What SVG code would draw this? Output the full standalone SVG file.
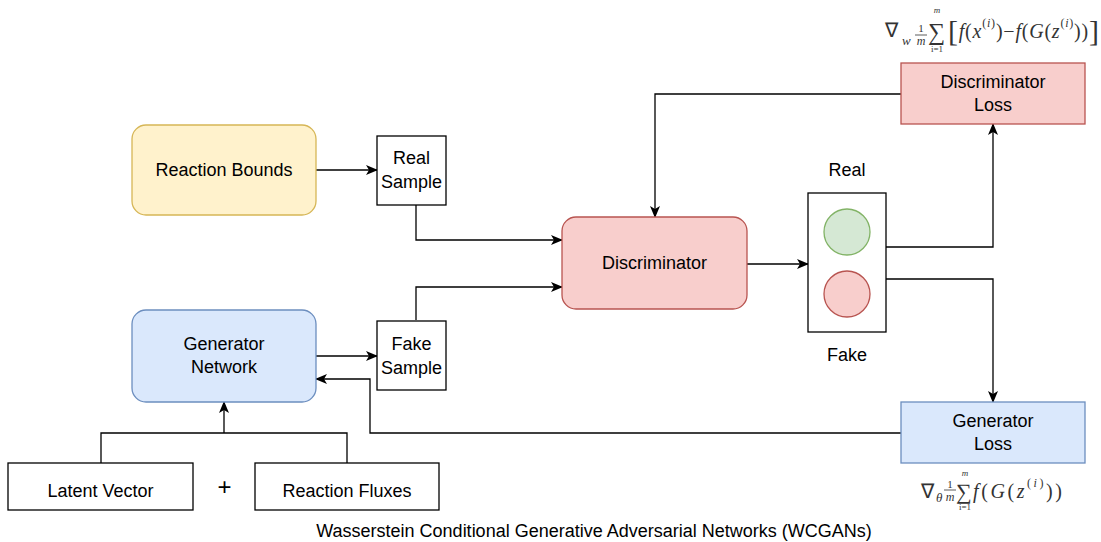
<svg xmlns="http://www.w3.org/2000/svg" width="1101" height="542" viewBox="0 0 1101 542">
<style>
.lbl{font-family:"Liberation Sans",Arial,sans-serif;font-size:18px;fill:#000;text-anchor:middle}
.box{fill:#fff;stroke:#000;stroke-width:1.3}
.yel{fill:#fff2cc;stroke:#d6b656;stroke-width:1.3}
.blu{fill:#dae8fc;stroke:#6c8ebf;stroke-width:1.3}
.red{fill:#f8cecc;stroke:#b85450;stroke-width:1.3}
.grn{fill:#d5e8d4;stroke:#82b366;stroke-width:1.3}
.con{fill:none;stroke:#000;stroke-width:1.3}
.arr{fill:none;stroke:#000;stroke-width:1.3;marker-end:url(#ah)}
.m{font-family:"Liberation Serif","Times New Roman",serif;fill:#333}
.it{font-style:italic}
</style>
<defs>
<marker id="ah" viewBox="0 0 12 10" refX="11" refY="5" markerWidth="12" markerHeight="10" markerUnits="userSpaceOnUse" orient="auto">
<path d="M0,0 L12,5 L0,10 L3,5 z" fill="#000"/>
</marker>
</defs>

<g id="connectors">
<path class="arr" d="M316,170 H377"/>
<path class="arr" d="M416,205 V240 H562"/>
<path class="arr" d="M416,320 V287 H562"/>
<path class="arr" d="M747,264 H808"/>
<path class="arr" d="M886,247 H993 V124"/>
<path class="arr" d="M886,279 H993 V402"/>
<path class="arr" d="M901,94 H655 V217"/>
<path class="arr" d="M901,433 H370 V379 H316"/>
<path class="arr" d="M316,356 H377"/>
<path class="con" d="M101,463 V433 H347 V463"/>
<path class="arr" d="M224,433 V402"/>
</g>

<g id="reaction-bounds">
<rect class="yel" x="132" y="125" width="184" height="90" rx="14"/>
<text class="lbl" x="224" y="176">Reaction Bounds</text>
</g>
<g id="real-sample">
<rect class="box" x="377" y="136" width="69" height="69"/>
<text class="lbl" x="411.5" y="164">Real</text>
<text class="lbl" x="411.5" y="188">Sample</text>
</g>
<g id="generator-network">
<rect class="blu" x="132" y="310" width="184" height="92" rx="14"/>
<text class="lbl" x="224" y="350">Generator</text>
<text class="lbl" x="224" y="373">Network</text>
</g>
<g id="fake-sample">
<rect class="box" x="377" y="321" width="69" height="69"/>
<text class="lbl" x="411.5" y="350">Fake</text>
<text class="lbl" x="411.5" y="374">Sample</text>
</g>
<g id="discriminator">
<rect class="red" x="562" y="217" width="185" height="92" rx="14"/>
<text class="lbl" x="654.5" y="269">Discriminator</text>
</g>
<g id="real-fake">
<rect class="box" x="808" y="193" width="78" height="139"/>
<circle class="grn" cx="847" cy="232" r="23"/>
<circle class="red" cx="847" cy="294" r="23"/>
<text class="lbl" x="847" y="176">Real</text>
<text class="lbl" x="847" y="361">Fake</text>
</g>
<g id="discriminator-loss">
<rect class="red" x="901" y="63" width="184" height="61"/>
<text class="lbl" x="993" y="88">Discriminator</text>
<text class="lbl" x="993" y="111">Loss</text>
</g>
<g id="generator-loss">
<rect class="blu" x="901" y="402" width="184" height="61"/>
<text class="lbl" x="993" y="427">Generator</text>
<text class="lbl" x="993" y="450">Loss</text>
</g>
<g id="latent-vector">
<rect class="box" x="8" y="463" width="185" height="47"/>
<text class="lbl" x="100.5" y="497">Latent Vector</text>
</g>
<g id="plus">
<text class="lbl" x="224.5" y="495" style="font-size:24px;font-weight:300">+</text>
</g>
<g id="reaction-fluxes">
<rect class="box" x="255" y="463" width="184" height="47"/>
<text class="lbl" x="347" y="497">Reaction Fluxes</text>
</g>

<g id="disc-formula" class="m">
<text x="885" y="37" font-size="20">∇</text>
<text x="902" y="45" font-size="13" class="it">w</text>
<text x="921" y="32" font-size="11" text-anchor="middle">1</text>
<path d="M915,35 H927" stroke="#333" stroke-width="0.8"/>
<text x="921" y="45" font-size="12" text-anchor="middle" class="it">m</text>
<text x="928" y="40" font-size="24">∑</text>
<text x="937" y="13" font-size="9" text-anchor="middle" class="it">m</text>
<text x="937" y="52" font-size="9" text-anchor="middle">i=1</text>
<text x="948" y="38" font-size="20" textLength="151" lengthAdjust="spacing"><tspan font-size="30" dy="3" font-weight="100">[</tspan><tspan dy="-3" class="it">f</tspan>(<tspan class="it">x</tspan><tspan font-size="12" dy="-11">(<tspan class="it">i</tspan>)</tspan><tspan dy="11">)−</tspan><tspan class="it">f</tspan>(<tspan class="it">G</tspan>(<tspan class="it">z</tspan><tspan font-size="12" dy="-11">(<tspan class="it">i</tspan>)</tspan><tspan dy="11">))</tspan><tspan font-size="30" dy="3" font-weight="100">]</tspan></text>
</g>

<g id="gen-formula" class="m">
<text x="921" y="498" font-size="20">∇</text>
<text x="936" y="502" font-size="13" class="it">θ</text>
<text x="950" y="488" font-size="11" text-anchor="middle">1</text>
<path d="M944,490 H956" stroke="#333" stroke-width="0.8"/>
<text x="950" y="501" font-size="12" text-anchor="middle" class="it">m</text>
<text x="956" y="499" font-size="22">∑</text>
<text x="965" y="476" font-size="9" text-anchor="middle" class="it">m</text>
<text x="965" y="510" font-size="9" text-anchor="middle">i=1</text>
<text x="973" y="498" font-size="20" textLength="89" lengthAdjust="spacing"><tspan class="it">f</tspan>(<tspan class="it">G</tspan>(<tspan class="it">z</tspan><tspan font-size="12" dy="-11">(<tspan class="it">i</tspan>)</tspan><tspan dy="11">))</tspan></text>
</g>

<g id="caption">
<text class="lbl" x="594" y="537">Wasserstein Conditional Generative Adversarial Networks (WCGANs)</text>
</g>
</svg>
